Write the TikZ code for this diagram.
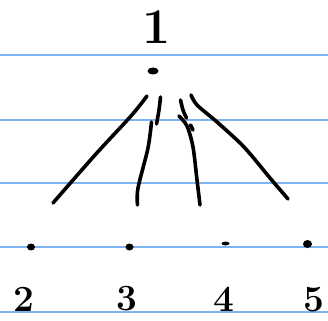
\documentclass[tikz,border=0pt]{standalone}
\usetikzlibrary{positioning,shapes.geometric}
\definecolor{ruleblue}{RGB}{125,180,240}

\begin{document}
\begin{tikzpicture}[x=1pt,y=-1pt,
  ruled/.style={draw=ruleblue,line width=1.8pt},
  pen/.style={line width=3.6pt,line cap=round,line join=round},
  digit/.style={font=\fontsize{37}{37}\selectfont\bfseries,inner sep=0pt},
  blob/.style={ellipse,fill,inner sep=0pt,minimum width=8pt,minimum height=7pt}]
  \useasboundingbox (0,0) rectangle (328,320);
  %% ruled paper
  \foreach \y in {55,120,183,247,312}
    \draw[ruled] (0,\y) -- (328,\y);
  %% top
  \node[digit,font=\fontsize{50}{50}\selectfont\bfseries] (n1) at (157,27) {1};
  \node[blob,minimum width=11pt,minimum height=7pt] (top) at (153,71) {};
  %% strokes
  \draw[pen] plot[smooth] coordinates {(147,96) (131,116) (95,155) (53,203)};
  \draw[pen] plot[smooth] coordinates {(160.5,97) (159,110) (156.5,124)};
  \draw[pen] plot[smooth] coordinates {(151.5,122) (148,148) (138,188) (137.5,205)};
  \draw[pen] plot[smooth] coordinates {(180.5,100) (183,110) (186.5,118)};
  \draw[pen] (190.5,125) -- (193,130);
  \draw[pen] plot[smooth] coordinates {(179,116) (187,126) (193,147) (197,180) (200,205)};
  \draw[pen] plot[smooth] coordinates {(191,95) (197,105) (217,122) (244,147) (270,178) (282,192) (288,199)};
  %% leaves
  \node[blob] (d2) at (31,247) {};
  \node[blob] (d3) at (129.5,247) {};
  \node[blob,minimum width=8pt,minimum height=4pt] (d4) at (225.5,243.5) {};
  \node[blob,minimum width=9pt,minimum height=8pt] (d5) at (307.5,244) {};
  %% labels
  \node[digit] (l2) at (24,299) {2};
  \node[digit] (l3) at (127,299) {3};
  \node[digit] (l4) at (224,299) {4};
  \node[digit] (l5) at (314,300) {5};
\end{tikzpicture}
\end{document}
